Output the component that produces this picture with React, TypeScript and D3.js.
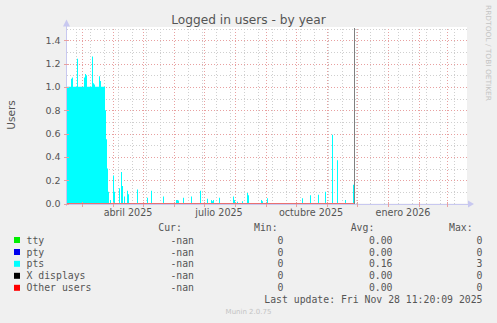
import React from "react";
import * as d3 from "d3";

const W = 497;
const H = 323;

// time window of the year graph (400 days)
const startDate = new Date(2025, 1, 14);
const endDate = new Date(2026, 2, 21);
const nowDate = new Date(2025, 10, 28);
const minorGridAnchor = new Date(2025, 1, 23);

const yMax = 1.5;
const yMajorTicks = [0, 0.2, 0.4, 0.6, 0.8, 1.0, 1.2, 1.4];
const yMinorTicks = [0.1, 0.3, 0.5, 0.7, 0.9, 1.1, 1.3, 1.5];

const xLabels = ["abril 2025", "julio 2025", "octubre 2025", "enero 2026"];
const xLabelDates = ["2025-04-01", "2025-07-01", "2025-10-01", "2026-01-01"];

// pts series: step changes (date -> daily average value from that day on)
const ptsDates = [
  "2025-02-14", "2025-02-18", "2025-02-19", "2025-02-20", "2025-02-24", "2025-02-25",
  "2025-03-03", "2025-03-04", "2025-03-05", "2025-03-06", "2025-03-11", "2025-03-12",
  "2025-03-13", "2025-03-14", "2025-03-18", "2025-03-19", "2025-03-20", "2025-03-24",
  "2025-03-25", "2025-03-26", "2025-03-27", "2025-03-28", "2025-03-29", "2025-03-30",
  "2025-04-01", "2025-04-02", "2025-04-03", "2025-04-07", "2025-04-08", "2025-04-09",
  "2025-04-10", "2025-04-11", "2025-04-12", "2025-04-13", "2025-04-15", "2025-04-16",
  "2025-04-17", "2025-04-25", "2025-04-26", "2025-05-05", "2025-05-06", "2025-05-09",
  "2025-05-10", "2025-05-21", "2025-05-22", "2025-06-03", "2025-06-04", "2025-06-05",
  "2025-06-06", "2025-06-10", "2025-06-11", "2025-06-18", "2025-06-19", "2025-06-27",
  "2025-06-28", "2025-07-04", "2025-07-05", "2025-07-08", "2025-07-09", "2025-07-10",
  "2025-07-11", "2025-07-16", "2025-07-17", "2025-07-30", "2025-07-31", "2025-08-01",
  "2025-08-03", "2025-08-04", "2025-08-08", "2025-08-09", "2025-08-13", "2025-08-14",
  "2025-08-15", "2025-08-27", "2025-08-28", "2025-08-29", "2025-09-02", "2025-09-03",
  "2025-10-07", "2025-10-08", "2025-10-15", "2025-10-16", "2025-10-23", "2025-10-24",
  "2025-10-30", "2025-10-31", "2025-11-06", "2025-11-07", "2025-11-11", "2025-11-12",
  "2025-11-19", "2025-11-20", "2025-11-27", "2025-11-28",
];
const ptsValues = [
  1.0, 1.07, 1.08, 1.0, 1.24, 1.0,
  1.08, 1.11, 1.1, 1.0, 1.26, 1.03,
  1.02, 1.0, 1.09, 1.05, 1.0, 0.8,
  0.55, 0.3, 0.1, 0.0, 0.03, 0.0,
  0.24, 0.1, 0.0, 0.13, 0.0, 0.27,
  0.15, 0.0, 0.06, 0.0, 0.11, 0.08,
  0.0, 0.12, 0.0, 0.05, 0.0, 0.11,
  0.0, 0.06, 0.0, 0.03, 0.03, 0.025,
  0.0, 0.05, 0.0, 0.06, 0.0, 0.11,
  0.0, 0.04, 0.0, 0.03, 0.02, 0.03,
  0.0, 0.05, 0.0, 0.06, 0.03, 0.0,
  0.015, 0.0, 0.02, 0.0, 0.09, 0.07,
  0.0, 0.03, 0.02, 0.0, 0.045, 0.0,
  0.045, 0.0, 0.07, 0.0, 0.075, 0.0,
  0.1, 0.0, 0.59, 0.0, 0.37, 0.0,
  0.03, 0.0, 0.16, 0.0,
];

const legendNames = ["tty", "pty", "pts", "X displays", "Other users"];
const legendColors = ["#00ee00", "#0000ee", "#00ffff", "#000000", "#ff0000"];
const legendCur = ["-nan", "-nan", "-nan", "-nan", "-nan"];
const legendMin = ["0", "0", "0", "0", "0"];
const legendAvg = ["0.00", "0.00", "0.16", "0.00", "0.00"];
const legendMax = ["0", "0", "3", "0", "0"];

const parse = d3.timeParse("%Y-%m-%d");

export default function App() {
  const left = 67, right = 467, top = 28.5, bottom = 203.5;
  const x = d3.scaleTime().domain([startDate, endDate]).range([left, right]);
  const y = d3.scaleLinear().domain([0, yMax]).range([bottom, top]);

  const pts = ptsDates.map((d, i) => ({ t: parse(d) as Date, v: ptsValues[i] }));
  pts.push({ t: nowDate, v: 0 });
  const area = d3
    .area<{ t: Date; v: number }>()
    .curve(d3.curveStepAfter)
    .x((d) => x(d.t))
    .y0(y(0))
    .y1((d) => y(d.v));

  const minorX = d3.timeWeek
    .every(2)!
    .range(d3.timeDay.offset(minorGridAnchor, -28), endDate)
    .filter((d) => d >= startDate)
    .map((d) => x(d));
  const majorX = d3.timeMonth.range(startDate, endDate).map((d) => x(d));
  const nowX = x(nowDate);

  const textColor = "#555";
  const sans = "'DejaVu Sans', sans-serif";
  const mono = "'DejaVu Sans Mono', monospace";
  const rowY = [243.5, 255.5, 267.3, 279.3, 291.3];
  const px = (v: number) => Math.round(v) + 0.5;

  return (
    <svg width={W} height={H} style={{ position: "absolute", left: 0, top: 0 }}>
      <rect x={0} y={0} width={W} height={H} fill="#f0f0f0" />
      <rect x={left} y={top - 1.5} width={right - left} height={bottom - top + 1.5} fill="#ffffff" />

      {/* minor grid */}
      <g stroke="#cfcfcf" strokeWidth={1} strokeDasharray="1,2" shapeRendering="crispEdges">
        {yMinorTicks.map((v) => (
          <line key={"ym" + v} x1={left} x2={right} y1={px(y(v))} y2={px(y(v))} />
        ))}
        {minorX.map((p, i) => (
          <line key={"xm" + i} x1={px(p)} x2={px(p)} y1={top} y2={bottom} />
        ))}
      </g>
      {/* major grid */}
      <g stroke="#e8a0a0" strokeWidth={1} strokeDasharray="1,2" shapeRendering="crispEdges">
        {yMajorTicks.slice(1).map((v) => (
          <line key={"yM" + v} x1={left} x2={right} y1={px(y(v))} y2={px(y(v))} />
        ))}
        {majorX.map((p, i) => (
          <line key={"xM" + i} x1={px(p)} x2={px(p)} y1={top} y2={bottom} />
        ))}
      </g>

      {/* pts area */}
      <path d={area(pts) || ""} fill="#00ffff" />

      {/* axes */}
      <g stroke="#c8c8f0" strokeWidth={1} shapeRendering="crispEdges">
        <line x1={left - 0.5} x2={left - 0.5} y1={bottom + 2} y2={top - 4} />
        <line x1={left - 2} x2={right + 2} y1={bottom + 0.5} y2={bottom + 0.5} />
      </g>
      <path d={`M${left - 4},${top - 2} L${left + 3},${top - 2} L${left - 0.5},${top - 9} Z`} fill="#c8c8f0" />
      <path d={`M${right + 1},${bottom - 3} L${right + 1},${bottom + 4} L${right + 7},${bottom + 0.5} Z`} fill="#c8c8f0" />
      {/* tick marks */}
      <g stroke="#e8a0a0" shapeRendering="crispEdges">
        {majorX.map((p, i) => (
          <line key={"tk" + i} x1={px(p)} x2={px(p)} y1={bottom - 2} y2={bottom + 3} />
        ))}
        {yMajorTicks.map((v) => (
          <line key={"tky" + v} x1={left - 3} x2={left + 2} y1={px(y(v))} y2={px(y(v))} />
        ))}
      </g>

      {/* zero line: other users */}
      <line x1={left} x2={nowX} y1={bottom} y2={bottom} stroke="#ea7070" strokeWidth={1} />
      {/* now line */}
      <line x1={px(nowX)} x2={px(nowX)} y1={top - 1} y2={bottom} stroke="#808080" strokeWidth={1} shapeRendering="crispEdges" />

      {/* y labels */}
      <g fontFamily={sans} fontSize={9.5} fill={textColor} textAnchor="end">
        {yMajorTicks.map((v) => (
          <text key={"yl" + v} x={60.5} y={y(v) + 3.5}>
            {d3.format(".1f")(v)}
          </text>
        ))}
      </g>
      {/* x labels */}
      <g fontFamily={sans} fontSize={9.6} fill={textColor} textAnchor="middle">
        {xLabels.map((l, i) => {
          const d = parse(xLabelDates[i]) as Date;
          const c = x(d3.timeDay.offset(d, 15));
          return (
            <text key={l} x={c} y={216}>
              {l}
            </text>
          );
        })}
      </g>

      {/* title */}
      <text x={248.5} y={23.5} fontFamily={sans} fontSize={12.2} fill={textColor} textAnchor="middle">
        Logged in users - by year
      </text>
      {/* y axis title */}
      <text transform={`translate(14.5,${115}) rotate(-90)`} fontFamily={sans} fontSize={10.5} fill={textColor} textAnchor="middle">
        Users
      </text>
      {/* watermark */}
      <text
        transform={`translate(485.5,5) rotate(90)`}
        fontFamily={sans}
        fontSize={7}
        fill="#c4c4c4"
        textLength={96}
        lengthAdjust="spacingAndGlyphs"
      >
        RRDTOOL / TOBI OETIKER
      </text>

      {/* legend */}
      <g fontFamily={mono} fontSize={9.8} fill={textColor}>
        <text x={158.3} y={231}>Cur:</text>
        <text x={254} y={231}>Min:</text>
        <text x={350.7} y={231}>Avg:</text>
        <text x={449} y={231}>Max:</text>
        {legendNames.map((n, i) => (
          <g key={n}>
            <rect x={14} y={rowY[i] - 6.5} width={6} height={6} fill={legendColors[i]} />
            <text x={26.5} y={rowY[i]}>{n}</text>
            <text x={194} y={rowY[i]} textAnchor="end">{legendCur[i]}</text>
            <text x={283.5} y={rowY[i]} textAnchor="end">{legendMin[i]}</text>
            <text x={392.5} y={rowY[i]} textAnchor="end">{legendAvg[i]}</text>
            <text x={482.5} y={rowY[i]} textAnchor="end">{legendMax[i]}</text>
          </g>
        ))}
        <text x={482.5} y={303} textAnchor="end">Last update: Fri Nov 28 11:20:09 2025</text>
      </g>
      <text x={248.5} y={313.5} fontFamily={sans} fontSize={7} fill="#c4c4c4" textAnchor="middle">
        Munin 2.0.75
      </text>
    </svg>
  );
}
